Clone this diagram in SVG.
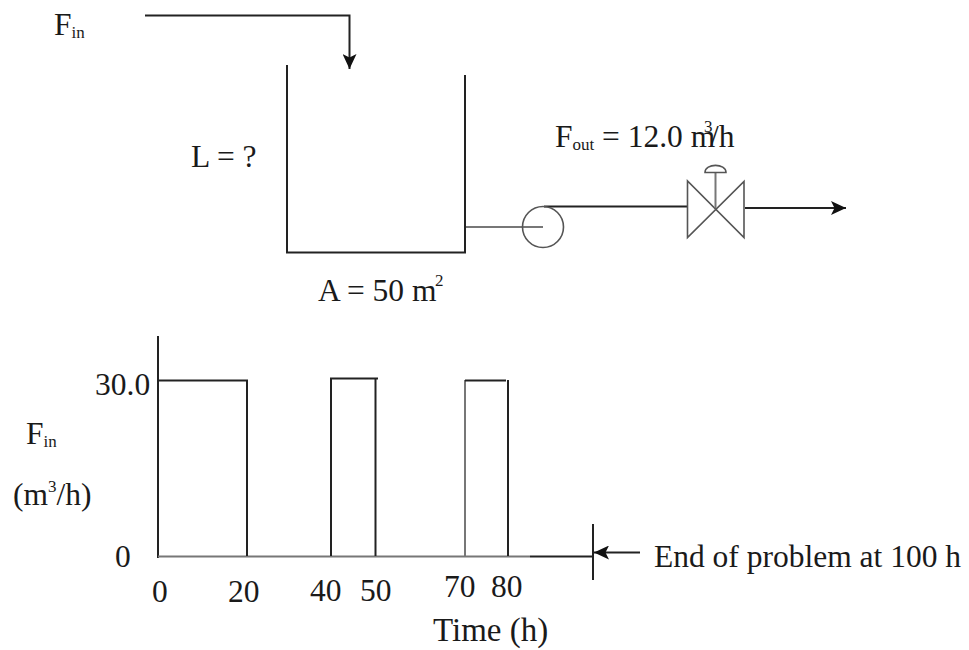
<svg xmlns="http://www.w3.org/2000/svg" width="969" height="650" viewBox="0 0 969 650">
<style>
text{font-family:"Liberation Serif","Times New Roman",serif;font-size:31.500px;fill:#1a1a1a}
.s{font-size:17px}
.l{fill:none;stroke:#222;stroke-width:2}
.g{fill:none;stroke:#777;stroke-width:2}
.m{fill:none;stroke:#555;stroke-width:1.6}
</style>
<defs>
<marker id="a" markerUnits="userSpaceOnUse" markerWidth="16" markerHeight="14" refX="15" refY="7" orient="auto"><path d="M0 0L15 7L0 14L3.500 7Z" fill="#111"/></marker>
</defs>
<rect width="969" height="650" fill="#fff"/>
<g id="connectors">
<path class="l" d="M145 15.500H349.500V69" marker-end="url(#a)"/>
<path class="g" d="M465 227H543"/>
<path class="l" d="M544 206.500H688"/>
<path class="l" d="M745 208H846" marker-end="url(#a)"/>
<path class="l" d="M640 552.500H594" marker-end="url(#a)"/>
</g>
<g id="tank"><path class="l" d="M287 65V252.500H465V75"/></g>
<g id="pump"><circle class="m" cx="543" cy="227" r="20.500"/></g>
<g id="valve">
<path class="m" d="M687.500 181V237.500L744 181.500V237.500Z"/>
<path class="g" d="M715.500 172V208"/>
<path class="m" d="M705 172.500C705 163 726 163 726 172.500Z"/>
</g>
<g id="chart">
<path class="l" d="M158 336V558"/>
<path class="g" d="M158 556.500H530"/>
<path class="l" d="M530 556.500H593"/>
<path class="l" d="M158 380.500H247V556"/>
<path class="l" d="M331 556V378.500H378M375.500 378.500V556"/>
<path class="g" d="M465 556V380"/>
<path class="l" d="M465 380.500H506M508 380V556"/>
<path class="l" d="M593 524V580"/>
</g>
<g id="labels">
<text x="54" y="35">F<tspan class="s" dy="3">in</tspan></text>
<text x="191" y="167">L = ?</text>
<text x="555" y="147">F<tspan class="s" dy="3">out</tspan><tspan x="602" dy="-3">= 12.0 m</tspan><tspan class="s" x="704" dy="-15">3</tspan><tspan x="710" dy="15">/h</tspan></text>
<text x="318" y="301">A = 50 m<tspan class="s" x="435" dy="-15">2</tspan></text>
<text x="95" y="395">30.0</text>
<text x="26" y="444">F<tspan class="s" dy="3">in</tspan></text>
<text x="13" y="505">(m<tspan class="s" dy="-13">3</tspan><tspan dy="13">/h)</tspan></text>
<text x="115" y="567">0</text>
<text x="152" y="602">0</text>
<text x="228" y="602">20</text>
<text x="310" y="601">40</text>
<text x="360" y="601">50</text>
<text x="444" y="597">70</text>
<text x="491" y="597">80</text>
<text x="433" y="641" style="font-size:33px">Time (h)</text>
<text x="654" y="567">End of problem at 100 h</text>
</g>
</svg>
